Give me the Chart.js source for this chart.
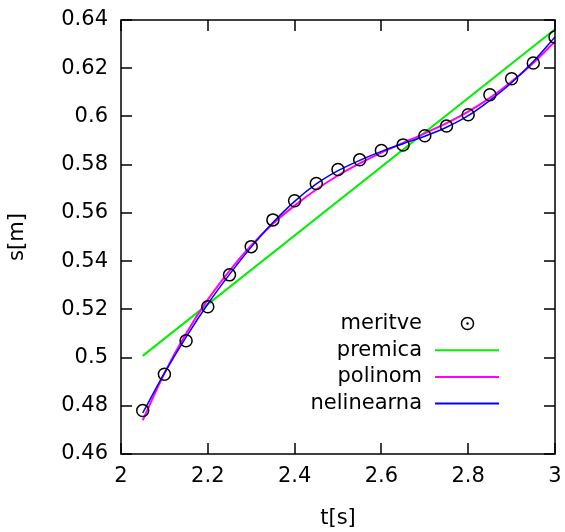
<!DOCTYPE html>
<html>
<head>
<meta charset="utf-8">
<script src="https://cdn.jsdelivr.net/npm/chart.js@4.4.1/dist/chart.umd.min.js"></script>
<style>
html,body{margin:0;padding:0;background:#fff;}
#wrap{width:565px;height:532px;}
</style>
</head>
<body>
<div id="wrap"><canvas id="c" width="565" height="532"></canvas></div>
<script>
const tValues = [2.05,2.10,2.15,2.20,2.25,2.30,2.35,2.40,2.45,2.50,2.55,2.60,2.65,2.70,2.75,2.80,2.85,2.90,2.95,3.00];
const meritve = [0.4780,0.4931,0.5070,0.5211,0.5343,0.5460,0.5571,0.5650,0.5722,0.5780,0.5820,0.5859,0.5882,0.5920,0.5960,0.6007,0.6090,0.6156,0.6222,0.6329];
const premicaT = [2.05, 3.00];
const premica = [0.5007, 0.6362];
const polinom = [0.4740,0.4935,0.5100,0.5240,0.5360,0.5465,0.5555,0.5630,0.5697,0.5755,0.5805,0.5850,0.5890,0.5930,0.5972,0.6020,0.6077,0.6145,0.6222,0.6311];
const nelinearna = [0.4770,0.4935,0.5085,0.5222,0.5345,0.5458,0.5560,0.5648,0.5720,0.5775,0.5818,0.5855,0.5887,0.5918,0.5955,0.6003,0.6067,0.6140,0.6228,0.6330];
const xTickLabels = ['2','2.2','2.4','2.6','2.8','3'];
const yTickLabels = ['0.46','0.48','0.5','0.52','0.54','0.56','0.58','0.6','0.62','0.64'];
const seriesNames = ['meritve','premica','polinom','nelinearna'];
const seriesColors = ['#000000','#00f000','#ff00ff','#0000ff'];

const FONT = 'DejaVu Sans';
const FS = 21;
const toPts = (xs, ys) => xs.map((x,i)=>({x:x, y:ys[i]}));

const framePlugin = {
  id: 'frame',
  afterDatasetsDraw(chart) {
    const {ctx, chartArea:a, scales:{x, y}} = chart;
    ctx.save();
    ctx.strokeStyle = '#000';
    ctx.lineWidth = 1.5;
    ctx.strokeRect(a.left, a.top, a.right - a.left, a.bottom - a.top);
    const L = 11;
    ctx.beginPath();
    xTickLabels.forEach(s => {
      const px = Math.round(x.getPixelForValue(parseFloat(s)));
      ctx.moveTo(px, a.bottom); ctx.lineTo(px, a.bottom - L);
      ctx.moveTo(px, a.top); ctx.lineTo(px, a.top + L);
    });
    yTickLabels.forEach(s => {
      const py = Math.round(y.getPixelForValue(parseFloat(s)));
      ctx.moveTo(a.left, py); ctx.lineTo(a.left + L, py);
      ctx.moveTo(a.right, py); ctx.lineTo(a.right - L, py);
    });
    ctx.stroke();

    // legend
    const textRight = 422, sx0 = 435, sx1 = 499, rowY0 = 323.5, dy = 26.7;
    ctx.font = FS + 'px "' + FONT + '"';
    ctx.textAlign = 'right';
    ctx.textBaseline = 'middle';
    seriesNames.forEach((name, i) => {
      const yy = rowY0 + i * dy;
      ctx.fillStyle = '#000';
      ctx.fillText(name, textRight, yy);
      if (i === 0) {
        ctx.beginPath();
        ctx.lineWidth = 1.5;
        ctx.strokeStyle = seriesColors[0];
        ctx.arc(467.5, yy, 6, 0, Math.PI * 2);
        ctx.stroke();
        ctx.beginPath();
        ctx.arc(467.5, yy, 1.2, 0, Math.PI * 2);
        ctx.fill();
      } else {
        ctx.beginPath();
        ctx.lineWidth = 2;
        ctx.strokeStyle = seriesColors[i];
        ctx.moveTo(sx0, yy); ctx.lineTo(sx1, yy);
        ctx.stroke();
      }
    });
    ctx.restore();
  }
};

new Chart(document.getElementById('c'), {
  type: 'scatter',
  data: {
    datasets: [
      { label: seriesNames[1], data: toPts(premicaT, premica), showLine: true, borderColor: seriesColors[1], borderWidth: 2, pointRadius: 0, fill: false, order: 4 },
      { label: seriesNames[2], data: toPts(tValues, polinom), showLine: true, borderColor: seriesColors[2], borderWidth: 2, pointRadius: 0, tension: 0.4, cubicInterpolationMode: 'monotone', fill: false, order: 3 },
      { label: seriesNames[3], data: toPts(tValues, nelinearna), showLine: true, borderColor: seriesColors[3], borderWidth: 1.5, pointRadius: 0, tension: 0.4, cubicInterpolationMode: 'monotone', fill: false, order: 2 },
      { label: seriesNames[0], data: toPts(tValues, meritve), showLine: false, borderColor: seriesColors[0], backgroundColor: 'rgba(0,0,0,0)', borderWidth: 1.5, pointRadius: 6, pointStyle: 'circle', order: 1 }
    ]
  },
  options: {
    responsive: false,
    animation: false,
    devicePixelRatio: 1,
    layout: { padding: { top: 20, right: 10, left: 0, bottom: 0 } },
    plugins: { legend: { display: false }, tooltip: { enabled: false } },
    scales: {
      x: {
        type: 'linear', min: 2, max: 3,
        afterBuildTicks: s => { s.ticks = xTickLabels.map(v => ({value: parseFloat(v)})); },
        afterFit: s => { s.height = 78; s.paddingLeft = 0; s.paddingRight = 0; },
        grid: { display: false, drawTicks: false },
        border: { display: false },
        ticks: { padding: 10, color: '#000', font: { family: FONT, size: FS }, maxRotation: 0,
          callback: (v) => xTickLabels.find(l => Math.abs(parseFloat(l) - v) < 1e-9) },
        title: { display: true, text: 't[s]', color: '#000', font: { family: FONT, size: FS }, padding: { top: 0, bottom: 1 } }
      },
      y: {
        type: 'linear', min: 0.46, max: 0.64,
        afterBuildTicks: s => { s.ticks = yTickLabels.map(v => ({value: parseFloat(v)})); },
        afterFit: s => { s.width = 121; s.paddingTop = 0; s.paddingBottom = 0; },
        grid: { display: false, drawTicks: false },
        border: { display: false },
        ticks: { padding: 13, color: '#000', font: { family: FONT, size: FS },
          callback: (v) => yTickLabels.find(l => Math.abs(parseFloat(l) - v) < 1e-9) },
        title: { display: true, text: 's[m]', color: '#000', font: { family: FONT, size: FS }, padding: { top: 5, bottom: 0 } }
      }
    }
  },
  plugins: [framePlugin]
});
</script>
</body>
</html>
